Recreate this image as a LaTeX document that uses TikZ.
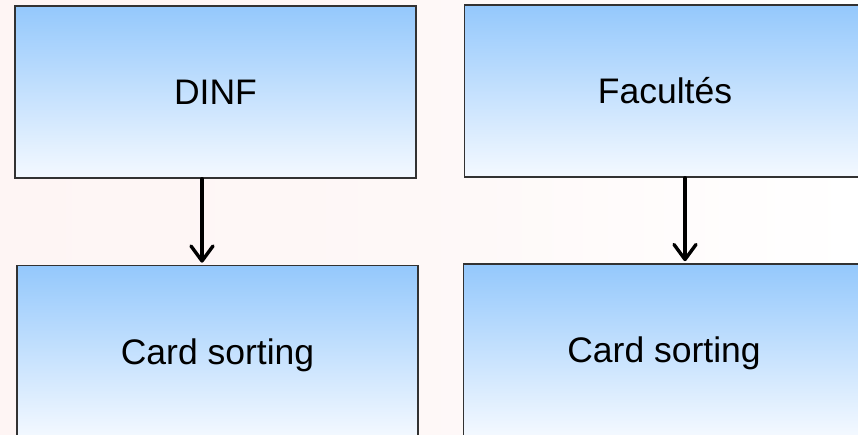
\documentclass[tikz,border=0pt]{standalone}
\usepackage{fontspec}
\setmainfont{Liberation Sans}
\usetikzlibrary{arrows.meta}
\definecolor{boxtop}{RGB}{148,200,252}
\definecolor{boxbottom}{RGB}{244,249,255}
\definecolor{boxline}{RGB}{50,50,50}
\definecolor{paper}{RGB}{254,245,244}
\tikzset{
  stage/.style={rectangle, draw=boxline, line width=1.6pt,
    top color=boxtop, bottom color=boxbottom,
    minimum width=401pt, minimum height=172pt, inner sep=0pt,
    text height=25pt, text depth=0pt,
    font=\fontsize{35.5}{42}\selectfont},
  flow/.style={line width=3.4pt, line cap=round,
    -{Straight Barb[length=15pt,width=22pt,line width=3.4pt,round]},
    shorten >=2pt}
}
\begin{document}
\begin{tikzpicture}[x=1pt,y=-1pt]
  \useasboundingbox (0,0) rectangle (858,434);
  \clip (0,0) rectangle (858,434);
  % paper background, faintly tinted on the left
  \shade[left color=paper, right color=white, middle color=paper!70!white]
    (0,0) rectangle (858,434);

  \node[stage] (dinf) at (215.5,92) {DINF};
  \node[stage] (fac)  at (665,91)   {Facultés};
  \node[stage] (cs1)  at (217.5,351.5) {Card sorting};
  \node[stage] (cs2)  at (664,350)  {Card sorting};

  \coordinate (ax1) at (202,0);
  \coordinate (ax2) at (685,0);
  \draw[flow] (dinf.south -| ax1) -- (cs1.north -| ax1);
  \draw[flow] (fac.south -| ax2) -- (cs2.north -| ax2);
\end{tikzpicture}
\end{document}
